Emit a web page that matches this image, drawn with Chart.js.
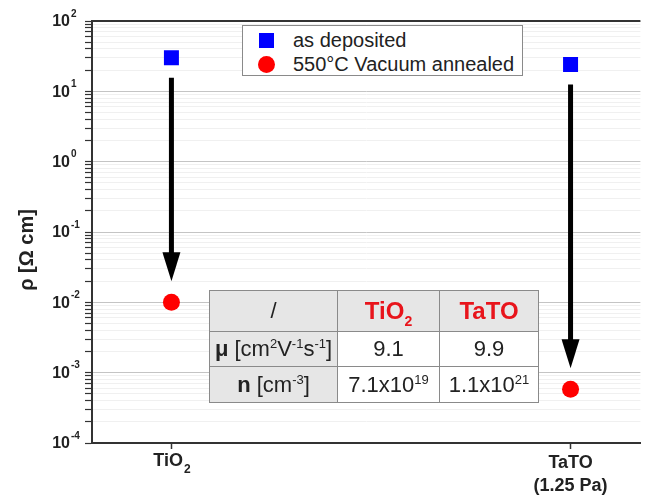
<!DOCTYPE html>
<html>
<head>
<meta charset="utf-8">
<script src="https://cdn.jsdelivr.net/npm/chart.js@4/dist/chart.umd.min.js"></script>
<style>
  body { margin: 0; background: #fff; font-family: "Liberation Sans", Arial, sans-serif; }
  #wrap { position: relative; width: 651px; height: 497px; }
  #legend { position: absolute; left: 242px; top: 25px; width: 279px; height: 49px; border: 1.5px solid #8a8a8a; background: #fff; font-size: 20px; line-height: 20px; color: #222; }
  #legend div { position: absolute; left: 50px; white-space: nowrap; }
  #legend span { position: absolute; }
  #props { position: absolute; left: 209px; top: 290px; border-collapse: collapse; font-size: 22px; color: #222; }
  #props td { border: 1.5px solid #8a8a8a; text-align: center; padding: 0; background: #fff; white-space: nowrap; }
  #props tr:first-child td, #props td:first-child { background: #e6e6e6; }
  #props .hd { color: #e8141b; font-weight: bold; font-size: 24px; }
  #props sup { font-size: 13px; vertical-align: 8px; line-height: 0; }
  #props sub { font-size: 14px; vertical-align: -7px; line-height: 0; }
</style>
</head>
<body>
<div id="wrap">
  <canvas id="myChart" width="651" height="497"></canvas>
  <div id="legend"></div>
  <table id="props"></table>
</div>
<script>
var categories = [['TiO', '2'], ['TaTO', '(1.25 Pa)']];
var asDeposited = [30, 24];
var annealed = [0.01, 0.00058];
var yTicks = [1e-4, 1e-3, 1e-2, 1e-1, 1, 10, 100];
var yExponents = ['-4', '-3', '-2', '-1', '0', '1', '2'];
var seriesNames = ['as deposited', '550°C Vacuum annealed'];

// inset table values
var tableHead = ['/', 'TiO<sub>2</sub>', 'TaTO'];
var mobilityRow = ['<b>μ</b> [cm<sup>2</sup>V<sup>-1</sup>s<sup>-1</sup>]', '9.1', '9.9'];
var densityRow = ['<b>n</b> [cm<sup>-3</sup>]', '7.1x10<sup>19</sup>', '1.1x10<sup>21</sup>'];

// legend
var lg = document.getElementById('legend');
lg.innerHTML =
  '<span style="left:16px;top:7px;width:15px;height:15px;background:#0000ff"></span>' +
  '<div style="top:4px">' + seriesNames[0] + '</div>' +
  '<span style="left:15px;top:30px;width:17px;height:17px;border-radius:50%;background:#ff0000"></span>' +
  '<div style="top:28px">' + seriesNames[1] + '</div>';

// table
var widths = [127, 101, 98];
var heights = [41, 35, 36];
var rows = [tableHead, mobilityRow, densityRow];
var html = '';
rows.forEach(function (r, ri) {
  html += '<tr style="height:' + heights[ri] + 'px">';
  r.forEach(function (c, ci) {
    var cls = (ri === 0 && ci > 0) ? ' class="hd"' : '';
    html += '<td' + cls + ' style="width:' + widths[ci] + 'px">' + c + '</td>';
  });
  html += '</tr>';
});
document.getElementById('props').innerHTML = html;

var FONT = '"Liberation Sans", Arial, sans-serif';

var arrows = {
  id: 'arrows',
  afterDatasetsDraw: function (chart) {
    var c = chart.ctx;
    var x = chart.scales.x, y = chart.scales.y;
    c.save();
    for (var i = 0; i < asDeposited.length; i++) {
      var px = x.getPixelForValue(i);
      var y0 = y.getPixelForValue(asDeposited[i]) + 20;
      var y1 = y.getPixelForValue(annealed[i]) - 21;
      c.strokeStyle = '#000';
      c.lineWidth = 5;
      c.beginPath();
      c.moveTo(px, y0);
      c.lineTo(px, y1 - 24);
      c.stroke();
      c.fillStyle = '#000';
      c.beginPath();
      c.moveTo(px - 9, y1 - 29);
      c.lineTo(px + 9, y1 - 29);
      c.lineTo(px, y1);
      c.closePath();
      c.fill();
    }
    var a = chart.chartArea;
    c.strokeStyle = '#333';
    c.lineWidth = 2;
    c.beginPath();
    c.moveTo(a.left, a.top);
    c.lineTo(a.right, a.top);
    c.stroke();
    c.restore();
  },
  afterDraw: function (chart) {
    var c = chart.ctx;
    var x = chart.scales.x, y = chart.scales.y;
    c.save();
    c.fillStyle = '#222';
    c.textBaseline = 'middle';
    // y tick labels: 10 with raised exponent
    yTicks.forEach(function (v, k) {
      var py = y.getPixelForValue(v);
      c.font = 'bold 16px ' + FONT;
      c.textAlign = 'right';
      c.fillText('10', 70, py + 1);
      c.font = 'bold 10px ' + FONT;
      c.textAlign = 'left';
      c.fillText(yExponents[k], 71, py - 7);
    });
    // x labels
    c.textAlign = 'left';
    categories.forEach(function (lab, i) {
      var px = x.getPixelForValue(i);
      if (i === 0) {
        c.font = 'bold 18px ' + FONT;
        var w1 = c.measureText(lab[0]).width;
        c.font = 'bold 12px ' + FONT;
        var w2 = c.measureText(lab[1]).width;
        var sx = px - (w1 + w2) / 2;
        c.font = 'bold 18px ' + FONT;
        c.fillText(lab[0], sx, 461);
        c.font = 'bold 12px ' + FONT;
        c.fillText(lab[1], sx + w1 + 1, 470);
      } else {
        c.font = 'bold 18px ' + FONT;
        c.textAlign = 'center';
        c.fillText(lab[0], px, 463);
        c.fillText(lab[1], px, 486);
      }
    });
    // y title
    c.translate(27, 250);
    c.rotate(-Math.PI / 2);
    c.font = 'bold 20px ' + FONT;
    c.textAlign = 'center';
    c.fillText('ρ [Ω cm]', 0, 0);
    c.restore();
  }
};

var ctx = document.getElementById('myChart').getContext('2d');
var myChart = new Chart(ctx, {
  type: 'scatter',
  data: {
    datasets: [{
      label: seriesNames[0],
      data: asDeposited.map(function (v, i) { return { x: i, y: v }; }),
      pointStyle: 'rect',
      pointRadius: 10.6,
      backgroundColor: '#0000ff',
      borderColor: '#0000ff',
      borderWidth: 0
    }, {
      label: seriesNames[1],
      data: annealed.map(function (v, i) { return { x: i, y: v }; }),
      pointStyle: 'circle',
      pointRadius: 8.5,
      backgroundColor: '#ff0000',
      borderColor: '#ff0000',
      borderWidth: 0
    }]
  },
  options: {
    responsive: false,
    animation: false,
    layout: { padding: { top: 21, right: 0, left: 0, bottom: 0 } },
    plugins: { legend: { display: false }, tooltip: { enabled: false } },
    scales: {
      x: {
        type: 'linear',
        min: -0.199,
        max: 1.175,
        afterBuildTicks: function (s) { s.ticks = [{ value: 0 }, { value: 1 }]; },
        afterFit: function (s) { s.height = 54; },
        ticks: { display: false },
        grid: { drawOnChartArea: false, tickLength: 6, tickColor: '#333', tickWidth: 1.5 },
        border: { color: '#333', width: 2 }
      },
      y: {
        type: 'logarithmic',
        min: 1e-4,
        max: 100,
        afterFit: function (s) { s.width = 92; },
        afterBuildTicks: function (s) {
          var t = [];
          for (var d = 0; d < yTicks.length; d++) {
            t.push({ value: yTicks[d], major: true });
            if (d < yTicks.length - 1) {
              for (var m = 2; m <= 9; m++) t.push({ value: yTicks[d] * m, major: false });
            }
          }
          s.ticks = t;
        },
        ticks: { display: false, autoSkip: false },
        grid: {
          color: function (c) { return c.tick && c.tick.major ? '#c4c4c4' : '#f0f0f0'; },
          lineWidth: 1,
          tickLength: 7,
          tickColor: '#333',
          tickWidth: 1.2
        },
        border: { color: '#333', width: 2 }
      }
    }
  },
  plugins: [arrows]
});
</script>
</body>
</html>
